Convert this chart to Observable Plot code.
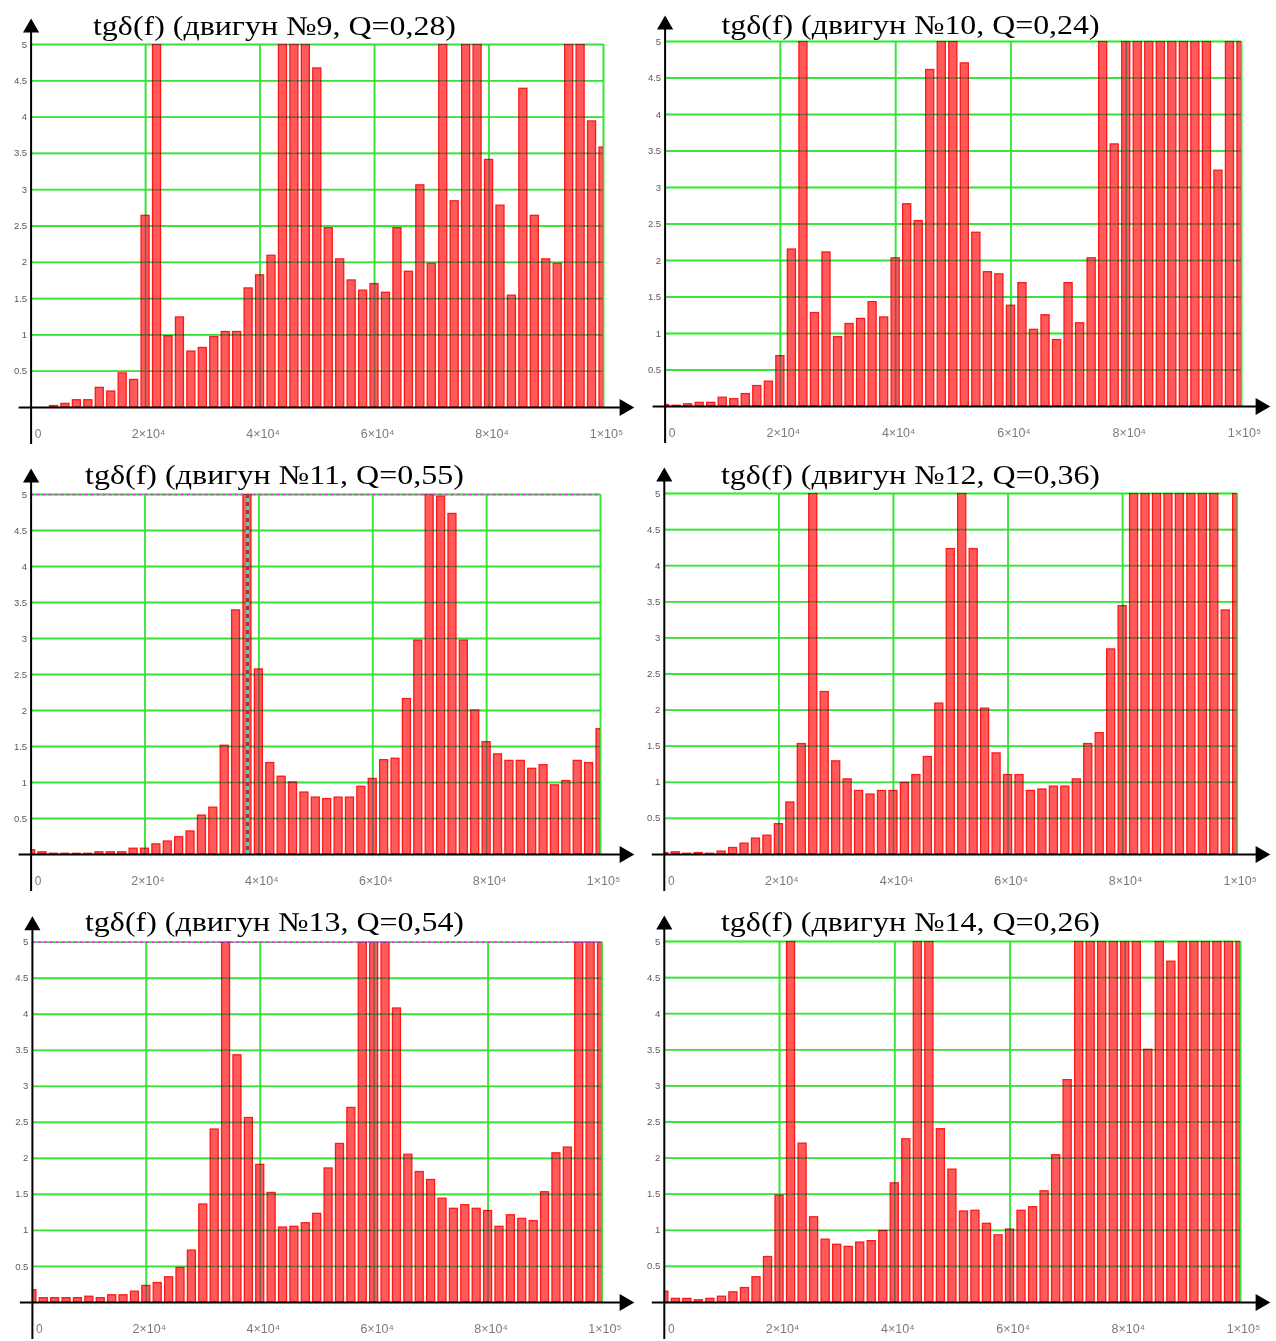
<!DOCTYPE html>
<html>
<head>
<meta charset="utf-8">
<script src="https://cdn.jsdelivr.net/npm/d3@7"></script>
<script src="https://cdn.jsdelivr.net/npm/@observablehq/plot@0.6"></script>
<style>
  html, body { margin: 0; padding: 0; background: #fff; }
  #root { position: relative; width: 1276px; height: 1341px; overflow: hidden; }
  #root svg { position: absolute; overflow: visible; }
</style>
</head>
<body>
<div id="root"></div>
<script>
// frequency categories (Hz)
const freqs = [0,2000,4000,6000,8000,10000,12000,14000,16000,18000,
  20000,22000,24000,26000,28000,30000,32000,34000,36000,38000,
  40000,42000,44000,46000,48000,50000,52000,54000,56000,58000,
  60000,62000,64000,66000,68000,70000,72000,74000,76000,78000,
  80000,82000,84000,86000,88000,90000,92000,94000,96000,98000,100000];

// tgδ values (clipped at 5 in the picture)
const tg9 = [0,0,0.02,0.05,0.1,0.1,0.27,0.22,0.47,0.38,
  2.64,5,0.98,1.24,0.77,0.82,0.97,1.04,1.04,1.64,
  1.82,2.09,5,5,5,4.67,2.47,2.04,1.75,1.61,
  1.7,1.58,2.47,1.87,3.06,1.98,5,2.84,5,5,
  3.41,2.78,1.54,4.39,2.64,2.04,1.98,5,5,3.94,3.58];
const tg10 = [0.02,0.01,0.03,0.05,0.05,0.12,0.1,0.17,0.28,0.34,
  0.69,2.15,5,1.28,2.11,0.95,1.13,1.2,1.43,1.22,
  2.03,2.77,2.54,4.61,5,5,4.7,2.38,1.84,1.81,
  1.38,1.69,1.05,1.25,0.91,1.69,1.14,2.03,5,3.59,
  5,5,5,5,5,5,5,5,3.23,5,5];
const tg11 = [0.06,0.03,0.01,0.01,0.01,0.01,0.03,0.03,0.03,0.08,
  0.08,0.14,0.18,0.24,0.32,0.54,0.65,1.51,3.39,5,
  2.57,1.27,1.08,1.0,0.86,0.79,0.77,0.79,0.79,0.94,
  1.05,1.31,1.33,2.16,2.97,5,4.97,4.73,2.97,2.0,
  1.56,1.39,1.3,1.3,1.19,1.24,0.96,1.02,1.3,1.27,1.74];
const tg12 = [0.02,0.03,0.01,0.02,0.01,0.04,0.09,0.15,0.22,0.26,
  0.42,0.72,1.53,5,2.25,1.29,1.04,0.88,0.83,0.88,
  0.88,0.99,1.1,1.35,2.09,4.23,5,4.23,2.02,1.4,
  1.1,1.1,0.88,0.9,0.94,0.94,1.04,1.53,1.68,2.84,
  3.44,5,5,5,5,5,5,5,5,3.38,5];
const tg13 = [0.17,0.06,0.06,0.06,0.06,0.08,0.06,0.1,0.1,0.15,
  0.23,0.27,0.35,0.48,0.72,1.36,2.4,5,3.43,2.56,
  1.91,1.52,1.04,1.05,1.1,1.23,1.86,2.2,2.7,5,
  5,5,4.08,2.05,1.81,1.7,1.44,1.3,1.35,1.3,
  1.27,1.05,1.21,1.16,1.13,1.53,2.07,2.15,5,5,5];
const tg14 = [0.15,0.05,0.05,0.03,0.05,0.08,0.14,0.2,0.35,0.63,
  1.48,5,2.2,1.18,0.87,0.8,0.77,0.83,0.85,0.99,
  1.65,2.26,5,5,2.4,1.84,1.26,1.27,1.09,0.93,
  1.01,1.27,1.32,1.54,2.04,3.08,5,5,5,5,
  5,5,3.5,5,4.72,5,5,5,5,5,5];

const titles = [
  "tgδ(f) (двигун №9, Q=0,28)",
  "tgδ(f) (двигун №10, Q=0,24)",
  "tgδ(f) (двигун №11, Q=0,55)",
  "tgδ(f) (двигун №12, Q=0,36)",
  "tgδ(f) (двигун №13, Q=0,54)",
  "tgδ(f) (двигун №14, Q=0,26)"
];

const yTicks = [0.5,1,1.5,2,2.5,3,3.5,4,4.5,5];
const yTickLabels = ["0.5","1","1.5","2","2.5","3","3.5","4","4.5","5"];
const xTicks = [0,20000,40000,60000,80000,100000];
const xTickLabels = ["0","2×10⁴","4×10⁴","6×10⁴","8×10⁴","1×10⁵"];
const markerFreq = 38000; // vertical marker in panel №11

const series = [tg9, tg10, tg11, tg12, tg13, tg14];

// layout of each panel (pixels)
const layout = [
  {left:0,   top:0,   H:450, L:30.6, R:603,   T:44,   B:407, tb:34, tw:363, topMarker:false, marker:false},
  {left:636, top:0,   H:450, L:28.6, R:605,   T:41,   B:406, tb:33, tw:378, topMarker:false, marker:false},
  {left:0,   top:450, H:445, L:30.6, R:600,   T:44,   B:404, tb:33, tw:379, topMarker:true,  marker:true},
  {left:636, top:450, H:445, L:27.8, R:600.7, T:43,   B:404, tb:33, tw:379, topMarker:false, marker:false},
  {left:0,   top:895, H:446, L:31.9, R:601.5, T:46.7, B:407, tb:35, tw:379, topMarker:true,  marker:false},
  {left:636, top:895, H:446, L:27.8, R:604,   T:46,   B:407, tb:35, tw:379, topMarker:false, marker:false}
];

const GREEN = "#3cf03c";
const root = document.getElementById("root");

series.forEach((vals, k) => {
  const g = layout[k];
  const W = 636;
  const data = freqs.map((f, i) => ({f, v: vals[i]}));
  const xGrid = xTicks.slice(1);
  const xLab = xTicks.map((f, i) => ({f, t: xTickLabels[i]}));
  const yLab = yTicks.map((v, i) => ({v, t: yTickLabels[i]}));
  const tipCenter = W - 10;

  const marks = [
    Plot.ruleY(yTicks, {stroke: GREEN, strokeWidth: 1.8}),
    Plot.ruleX(xGrid, {stroke: GREEN, strokeWidth: 1.8}),
    Plot.rectY(data, {x1: d => d.f - 700, x2: d => d.f + 700, y1: 0, y2: "v",
      fill: "#ff5a5a", stroke: "#ff1818", strokeWidth: 1.3, clip: true}),
    Plot.ruleY(yTicks, {stroke: "#3ad83a", strokeWidth: 1.6, strokeOpacity: 0.6, mixBlendMode: "darken"}),
    Plot.ruleX(xGrid, {stroke: "#3ad83a", strokeWidth: 1.6, strokeOpacity: 0.6, mixBlendMode: "darken"})
  ];
  if (g.topMarker) {
    marks.push(Plot.ruleY([5], {stroke: "#d040d0", strokeWidth: 1.6, strokeDasharray: "3,3"}));
  }
  if (g.marker) {
    marks.push(Plot.ruleX([markerFreq], {stroke: "#6cc8b4", strokeWidth: 3}));
    marks.push(Plot.ruleX([markerFreq], {stroke: "#a83030", strokeWidth: 3, strokeDasharray: "4,4"}));
  }
  marks.push(
    // axes
    Plot.ruleY([0], {stroke: "black", strokeWidth: 2, insetLeft: -12, insetRight: -(tipCenter - g.R)}),
    Plot.ruleX([0], {stroke: "black", strokeWidth: 2, insetTop: -22, insetBottom: -37}),
    Plot.dot([0], {x: () => 0, y: () => 5, dy: -16.7, symbol: "triangle", r: 6, fill: "black", stroke: "none"}),
    Plot.dot([0], {x: () => 100000, y: () => 0, dx: tipCenter - 2 - g.R, symbol: "triangle", r: 6.3, rotate: 90, fill: "black", stroke: "none"}),
    // tick labels
    Plot.text(yLab, {x: () => 0, y: "v", text: "t", dx: -4, textAnchor: "end", fontSize: 9.5,
      fill: "#5a5a5a", fontFamily: "Liberation Sans, Arial, sans-serif"}),
    Plot.text(xLab.slice(0, 1), {x: "f", y: () => 0, text: "t", dx: 7, dy: 27, fontSize: 12,
      fill: "#7a7a7a", fontFamily: "Liberation Sans, Arial, sans-serif"}),
    Plot.text(xLab.slice(1), {x: "f", y: () => 0, text: "t", dx: 3, dy: 26, fontSize: 12.5,
      fill: "#7a7a7a", fontFamily: "Liberation Sans, Arial, sans-serif"}),
    // title
    Plot.text([titles[k]], {frameAnchor: "top", text: d => d, dx: 274 - (g.L + g.R) / 2, dy: g.tb - g.T,
      lineAnchor: "bottom", fontSize: 27, fill: "black", fontFamily: "Liberation Serif, Times New Roman, serif"})
  );

  const svg = Plot.plot({
    width: W,
    height: g.H,
    marginLeft: g.L,
    marginRight: W - g.R,
    marginTop: g.T,
    marginBottom: g.H - g.B,
    x: {type: "linear", domain: [0, 100000], axis: null},
    y: {type: "linear", domain: [0, 5], axis: null},
    style: {background: "transparent", overflow: "visible"},
    marks
  });
  // the reference title is set wide: stretch it to its measured width
  svg.querySelectorAll("text").forEach(t => {
    if (t.textContent === titles[k]) {
      t.setAttribute("textLength", g.tw);
      t.setAttribute("lengthAdjust", "spacingAndGlyphs");
    }
  });
  svg.style.left = g.left + "px";
  svg.style.top = g.top + "px";
  root.appendChild(svg);
});
</script>
</body>
</html>
